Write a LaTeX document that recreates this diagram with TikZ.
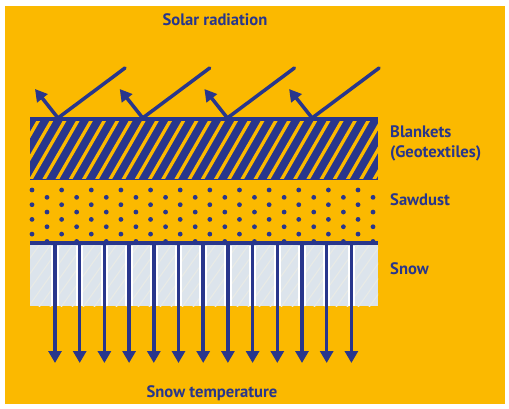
\documentclass[tikz,border=0pt]{standalone}
\usepackage{fontspec}
\setmainfont{PT Sans}
\usetikzlibrary{arrows.meta}
\definecolor{bg}{RGB}{251,185,0}
\definecolor{navy}{RGB}{40,54,140}
\definecolor{snowc}{RGB}{220,228,236}
\definecolor{snowl}{RGB}{232,234,230}
\tikzstyle{label} = [text=navy, font=\bfseries\fontsize{16.6}{20}\selectfont, inner sep=0]
\tikzstyle{ray} = [draw=navy, line width=3.5pt, line cap=round]
\tikzstyle{line} = [draw=navy, line width=3.5pt, -{Triangle[width=13pt,length=12pt]}]
\tikzstyle{halo} = [draw=white, line width=7.5pt]

\begin{document}
\begin{tikzpicture}[x=1pt,y=-1pt]
\useasboundingbox (0,0) rectangle (509,409);
\fill[white] (0,0) rectangle (509,409);
\fill[bg] (5,6) rectangle (505,404);

% blankets
\fill[navy] (30,117.5) rectangle (378,180);
\begin{scope}
\clip (30,122) rectangle (378,179);
\foreach \i in {0,...,30}
  \draw[bg, line width=3.3pt] ({-12+13.2*\i},185) -- ++(40.4,-70);
\end{scope}

% sawdust
\foreach \k in {0,...,7}
  \foreach \j in {0,...,11}
    \fill[navy] ({32+15*mod(\k,2)+29.64*\j},{190+7.35*\k}) circle (2.4pt);

% snow
\fill[snowc] (30,244) rectangle (378,306);
\begin{scope}
\clip (30,244) rectangle (378,306);
\foreach \i in {0,...,40}
  \draw[snowl, line width=1.2pt] ({-40+11*\i},310) -- ++(50,-70);
\end{scope}
\draw[navy, line width=3.5pt] (30,243) -- (378,243);

% heat flow into the snow
\foreach \i in {0,...,12} {
  \coordinate (t\i) at ({55+24.7*\i},243);
  \coordinate (h\i) at ({55+24.7*\i},245.5);
  \coordinate (e\i) at ({55+24.7*\i},306);
  \coordinate (b\i) at ({55+24.7*\i},363);
  \path [halo] (h\i) -- (e\i);
  \path [line] (t\i) -- (b\i);
}

% solar radiation, reflected
\foreach \i in {0,...,3} {
  \coordinate (in\i) at ({125+84.7*\i},68);
  \coordinate (hit\i) at ({58+84.7*\i},118);
  \coordinate (out\i) at ({35+84.7*\i},89);
  \path [ray] (in\i) -- (hit\i);
  \path [line] (hit\i) -- (out\i);
}

\node [label, anchor=base] (solar) at (215,25.5) {Solar radiation};
\node [label, anchor=base west] (blank) at (390,137.5) {Blankets};
\node [label, anchor=base west] (geo) at (390,158) {(Geotextiles)};
\node [label, anchor=base west] (saw) at (390,205) {Sawdust};
\node [label, anchor=base west] (snow) at (390,274) {Snow};
\node [label, anchor=base] (stemp) at (212,397) {Snow temperature};

\end{tikzpicture}
\end{document}
